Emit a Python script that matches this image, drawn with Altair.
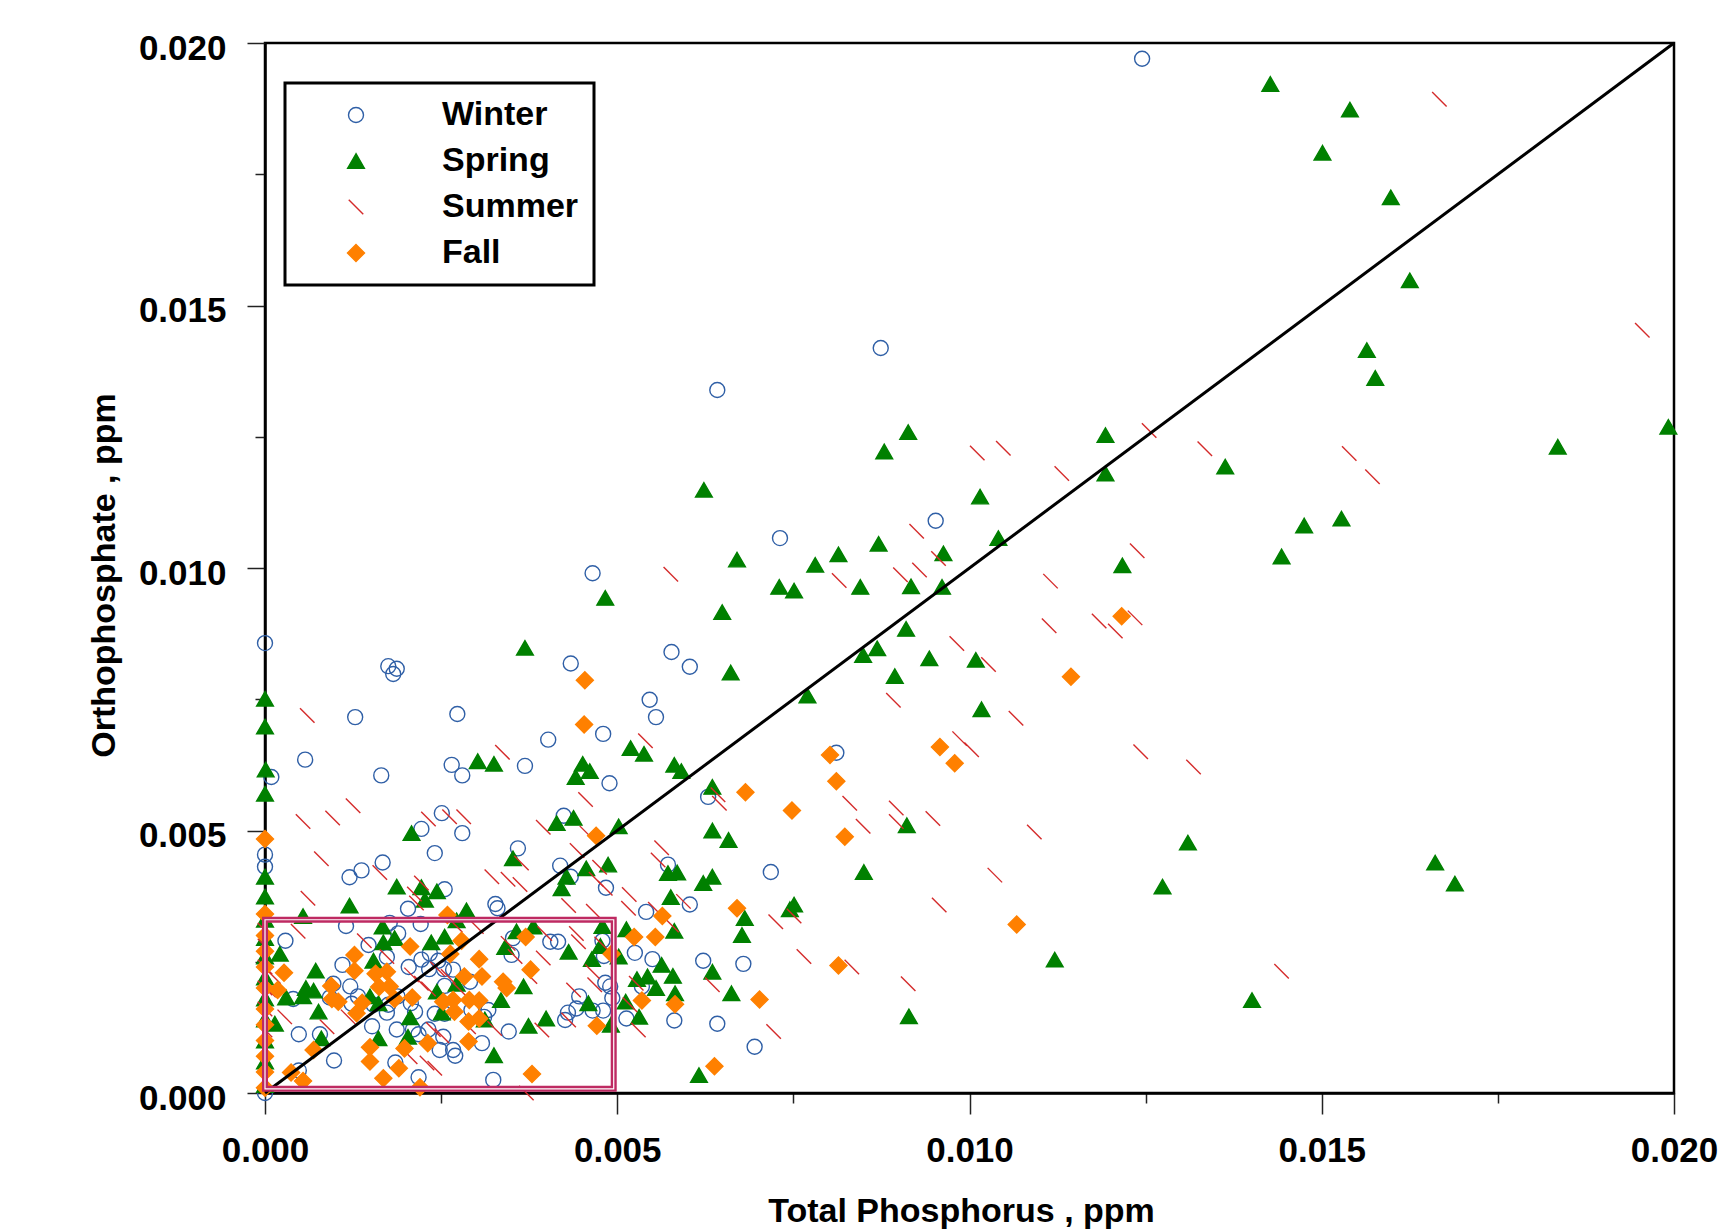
import altair as alt
import pandas as pd

SEASONS = ["Winter", "Spring", "Summer", "Fall"]

WINTER = [(0.01245,0.01970),(0.00874,0.01419),(0.00642,0.01339),(0.00952,0.01090),(0.00731,0.01057),(0.00465,0.00990),(0.0,0.00857),(0.00175,0.00813),(0.00187,0.00808),(0.00182,0.00798),(0.00434,0.00818),(0.00577,0.00840),(0.00603,0.00812),(0.00546,0.00749),(0.00555,0.00716),(0.00128,0.00716),(0.00273,0.00722),(0.00402,0.00673),(0.00480,0.00684),(0.00811,0.00648),(0.00057,0.00635),(0.00009,0.00602),(0.00165,0.00605),(0.00265,0.00625),(0.00280,0.00605),(0.00369,0.00623),(0.00489,0.00590),(0.00629,0.00564),(0.00251,0.00533),(0.00222,0.00503),(0.00280,0.00495),(0.00424,0.00528),(0.00241,0.00457),(0.00359,0.00466),(0.0,0.00454),(0.0,0.00431),(0.00120,0.00411),(0.00137,0.00424),(0.00167,0.00439),(0.00255,0.00388),(0.00203,0.00351),(0.00419,0.00433),(0.00434,0.00412),(0.00484,0.00391),(0.00572,0.00435),(0.00603,0.00359),(0.00541,0.00345),(0.00718,0.00421),(0.00327,0.00360),(0.00330,0.00352),(0.00115,0.00318),(0.00177,0.00324),(0.00189,0.00304),(0.00221,0.00322),(0.00405,0.00288),(0.00416,0.00288),(0.00479,0.00290),(0.00481,0.00261),(0.00525,0.00267),(0.00550,0.00255),(0.00622,0.00252),(0.00679,0.00246),(0.00029,0.00290),(0.00147,0.00282),(0.00110,0.00244),(0.00173,0.00259),(0.00204,0.00240),(0.00222,0.00254),(0.00234,0.00266),(0.00246,0.00252),(0.00233,0.00236),(0.00254,0.00236),(0.00267,0.00235),(0.00097,0.00208),(0.00121,0.00203),(0.00132,0.00184),(0.00123,0.00170),(0.00092,0.00182),(0.00040,0.00179),(0.00154,0.00168),(0.00173,0.00153),(0.00175,0.00168),(0.00188,0.00184),(0.00207,0.00171),(0.00213,0.00155),(0.00241,0.00151),(0.00255,0.00151),(0.00232,0.00121),(0.00152,0.00127),(0.00187,0.00121),(0.00210,0.00121),(0.00218,0.00112),(0.00048,0.00112),(0.00078,0.00112),(0.00248,0.00082),(0.00267,0.00082),(0.00270,0.00071),(0.00308,0.00095),(0.00346,0.00117),(0.00185,0.00058),(0.00098,0.00062),(0.00048,0.00043),(0.00218,0.00030),(0.0,0.0),(0.00293,0.00158),(0.00311,0.00145),(0.00317,0.00158),(0.00291,0.00212),(0.00255,0.00204),(0.00253,0.00107),(0.00483,0.00210),(0.00490,0.00203),(0.00535,0.00203),(0.00493,0.00181),(0.00446,0.00184),(0.00430,0.00153),(0.00426,0.00139),(0.00465,0.00157),(0.00480,0.00157),(0.00513,0.00142),(0.00581,0.00138),(0.00642,0.00132),(0.00695,0.00088),(0.00442,0.00161),(0.00352,0.00295),(0.00350,0.00263),(0.00324,0.00025)]

SPRING = [(0.01427,0.01922),(0.01540,0.01873),(0.01501,0.01791),(0.01598,0.01706),(0.01625,0.01548),(0.01564,0.01415),(0.01576,0.01362),(0.01992,0.01269),(0.01835,0.01231),(0.01363,0.01193),(0.01193,0.01253),(0.01193,0.01180),(0.00913,0.01259),(0.00879,0.01222),(0.01015,0.01136),(0.01041,0.01057),(0.01528,0.01094),(0.01475,0.01081),(0.01443,0.01022),(0.01217,0.01005),(0.00623,0.01149),(0.00670,0.01016),(0.00781,0.01006),(0.00814,0.01026),(0.00871,0.01046),(0.00963,0.01028),(0.00730,0.00964),(0.00751,0.00957),(0.00845,0.00964),(0.00917,0.00965),(0.00961,0.00964),(0.00483,0.00943),(0.00649,0.00916),(0.00910,0.00884),(0.00369,0.00848),(0.00869,0.00847),(0.00849,0.00834),(0.00943,0.00828),(0.00661,0.00801),(0.01009,0.00825),(0.00894,0.00794),(0.01017,0.00731),(0.00770,0.00757),(0.0,0.00751),(0.0,0.00698),(0.00001,0.00616),(0.0,0.00570),(0.00302,0.00632),(0.00325,0.00627),(0.00519,0.00657),(0.00538,0.00646),(0.00451,0.00627),(0.00461,0.00613),(0.00441,0.00602),(0.00581,0.00625),(0.00591,0.00613),(0.00635,0.00583),(0.00414,0.00514),(0.00438,0.00524),(0.00502,0.00508),(0.00635,0.00500),(0.00658,0.00482),(0.00208,0.00495),(0.00911,0.00510),(0.01310,0.00477),(0.01661,0.00439),(0.01689,0.00399),(0.01274,0.00393),(0.00850,0.00421),(0.01121,0.00254),(0.01401,0.00177),(0.00914,0.00146),(0.00751,0.00359),(0.00487,0.00435),(0.00456,0.00428),(0.00428,0.00412),(0.00421,0.00390),(0.00572,0.00419),(0.00585,0.00420),(0.00622,0.00400),(0.00635,0.00412),(0.00576,0.00373),(0.00681,0.00333),(0.00677,0.00301),(0.00745,0.00350),(0.00381,0.00317),(0.00479,0.00318),(0.00513,0.00312),(0.00581,0.00309),(0.00431,0.00269),(0.00476,0.00280),(0.00464,0.00255),(0.00502,0.00260),(0.00563,0.00244),(0.00579,0.00223),(0.00528,0.00217),(0.00543,0.00222),(0.00555,0.00200),(0.00582,0.00190),(0.00635,0.00231),(0.00662,0.00190),(0.00367,0.00203),(0.00512,0.00174),(0.00531,0.00145),(0.00459,0.00171),(0.00491,0.00130),(0.00399,0.00142),(0.00374,0.00128),(0.00616,0.00034),(0.00352,0.00447),(0.0,0.00412),(0.0,0.00374),(0.00187,0.00393),(0.00222,0.00392),(0.00244,0.00384),(0.00227,0.00368),(0.00120,0.00357),(0.00054,0.00337),(0.00286,0.00348),(0.00272,0.00329),(0.00167,0.00317),(0.00255,0.00298),(0.00236,0.00287),(0.00184,0.00295),(0.00168,0.00287),(0.00021,0.00265),(0.00154,0.00252),(0.00072,0.00233),(0.00341,0.00278),(0.00357,0.00308),(0.00058,0.00200),(0.00069,0.00195),(0.00030,0.00182),(0.00054,0.00184),(0.00076,0.00155),(0.00149,0.00184),(0.00161,0.00171),(0.00244,0.00193),(0.00272,0.00208),(0.00335,0.00177),(0.00251,0.00153),(0.00206,0.00144),(0.00312,0.00140),(0.00080,0.00104),(0.00161,0.00104),(0.00203,0.00107),(0.00325,0.00072),(0.00014,0.00132),(0.0,0.00015),(0.0,0.00060),(0.0,0.00100),(0.0,0.00140),(0.0,0.00180),(0.0,0.00220),(0.0,0.00260),(0.0,0.00295),(0.0,0.00330)]

SUMMER = [(0.01667,0.01893),(0.01955,0.01453),(0.01255,0.01262),(0.01334,0.01227),(0.01131,0.01180),(0.01048,0.01228),(0.01011,0.01219),(0.01539,0.01218),(0.01572,0.01174),(0.01238,0.01033),(0.01115,0.00975),(0.01113,0.00890),(0.01184,0.00899),(0.01207,0.00880),(0.01235,0.00905),(0.00925,0.01070),(0.00815,0.00976),(0.00902,0.00987),(0.00929,0.00996),(0.00956,0.01018),(0.00982,0.00856),(0.01027,0.00816),(0.00892,0.00748),(0.01066,0.00714),(0.00986,0.00675),(0.01003,0.00654),(0.00830,0.00552),(0.00849,0.00508),(0.00896,0.00543),(0.00896,0.00517),(0.00948,0.00523),(0.01092,0.00497),(0.01243,0.00650),(0.01318,0.00621),(0.01036,0.00415),(0.00957,0.00358),(0.00725,0.00326),(0.00751,0.00337),(0.00765,0.00260),(0.00833,0.00240),(0.00913,0.00208),(0.00722,0.00117),(0.01443,0.00232),(0.00060,0.00719),(0.00337,0.00649),(0.00125,0.00547),(0.00096,0.00524),(0.00054,0.00517),(0.00232,0.00522),(0.00262,0.00526),(0.00282,0.00526),(0.00576,0.00988),(0.00540,0.00671),(0.00455,0.00559),(0.00395,0.00506),(0.00643,0.00568),(0.00645,0.00552),(0.00457,0.00495),(0.00563,0.00467),(0.00558,0.00444),(0.00443,0.00462),(0.00475,0.00430),(0.00470,0.00407),(0.00483,0.00390),(0.00517,0.00378),(0.00431,0.00357),(0.00466,0.00346),(0.00516,0.00352),(0.00554,0.00350),(0.00577,0.00320),(0.00594,0.00365),(0.00397,0.00304),(0.00442,0.00304),(0.00445,0.00288),(0.00395,0.00257),(0.00376,0.00222),(0.00478,0.00284),(0.00465,0.00231),(0.00468,0.00206),(0.00438,0.00196),(0.00527,0.00209),(0.00635,0.00206),(0.00518,0.00168),(0.00530,0.00120),(0.00431,0.00139),(0.00393,0.00120),(0.00371,0.00000),(0.00364,0.00438),(0.00080,0.00446),(0.00163,0.00420),(0.00061,0.00371),(0.00222,0.00400),(0.00212,0.00379),(0.00215,0.00362),(0.00322,0.00412),(0.00345,0.00407),(0.00362,0.00397),(0.00047,0.00308),(0.00141,0.00290),(0.00173,0.00260),(0.00208,0.00225),(0.00222,0.00209),(0.00232,0.00198),(0.00245,0.00236),(0.00260,0.00222),(0.00277,0.00196),(0.00270,0.00320),(0.00300,0.00317),(0.00345,0.00285),(0.00355,0.00260),(0.00012,0.00222),(0.00005,0.00196),(0.00028,0.00145),(0.00088,0.00126),(0.00118,0.00145),(0.00239,0.00121),(0.00251,0.00109),(0.00206,0.00069),(0.00230,0.00057),(0.00241,0.00047),(0.00289,0.00126),(0.00326,0.00123),(0.0,0.00120),(0.0,0.00160),(0.0,0.00200),(0.0,0.00240),(0.0,0.00280),(0.0,0.00310)]

FALL = [(0.01216,0.00908),(0.01144,0.00793),(0.00958,0.00659),(0.00979,0.00628),(0.00802,0.00644),(0.00811,0.00594),(0.00682,0.00573),(0.00748,0.00538),(0.00823,0.00488),(0.00454,0.00786),(0.00453,0.00702),(0.00470,0.00490),(0.0,0.00484),(0.01067,0.00321),(0.00670,0.00352),(0.00814,0.00243),(0.00702,0.00178),(0.00638,0.00051),(0.00582,0.00169),(0.00535,0.00176),(0.00564,0.00337),(0.00524,0.00297),(0.00554,0.00297),(0.00370,0.00297),(0.00492,0.00265),(0.00377,0.00235),(0.00471,0.00128),(0.00379,0.00036),(0.0,0.00341),(0.00259,0.00339),(0.00279,0.00290),(0.00206,0.00279),(0.00127,0.00263),(0.00127,0.00233),(0.00027,0.00229),(0.00018,0.00196),(0.00157,0.00227),(0.00173,0.00231),(0.00304,0.00255),(0.00283,0.00222),(0.00308,0.00222),(0.00263,0.00265),(0.00338,0.00212),(0.00343,0.00200),(0.00094,0.00204),(0.00095,0.00179),(0.00104,0.00174),(0.00138,0.00172),(0.00130,0.00152),(0.00162,0.00202),(0.00177,0.00203),(0.00184,0.00179),(0.00209,0.00182),(0.00253,0.00174),(0.00267,0.00177),(0.00290,0.00177),(0.00304,0.00176),(0.00269,0.00155),(0.00289,0.00136),(0.00304,0.00142),(0.00289,0.00098),(0.00231,0.00095),(0.00198,0.00085),(0.00149,0.00087),(0.00149,0.00060),(0.00190,0.00047),(0.00168,0.00028),(0.00220,0.00011),(0.00069,0.00082),(0.00037,0.00039),(0.00054,0.00023),(0.0,0.00010),(0.0,0.00040),(0.0,0.00070),(0.0,0.00100),(0.0,0.00130),(0.0,0.00160),(0.0,0.00200),(0.0,0.00240),(0.0,0.00270),(0.0,0.00300)]

ONE_TO_ONE_TP = [0.0, 0.02]
ONE_TO_ONE_OP = [0.0, 0.02]
BOX_TP = [0.0, 0.00495]
BOX_OP = [0.00008, 0.0033]
TICKS = [0.0, 0.0025, 0.005, 0.0075, 0.01, 0.0125, 0.015, 0.0175, 0.02]

SHAPES = ["circle", "triangle-up", "M-1,-1L1,1", "diamond"]
STROKES = ["#2F5FA6", "#008000", "#D42A2A", "#FF8000"]
FILLS = ["transparent", "#008000", "transparent", "#FF8000"]
SIZES = [225, 280, 210, 290]

FONT = "Liberation Sans"

rows = []
for name, pts in zip(SEASONS, [WINTER, SPRING, SUMMER, FALL]):
    for tp, op in pts:
        rows.append({"Season": name, "TP": tp, "OP": op})
df = pd.DataFrame(rows)

line_df = pd.DataFrame({"TP": ONE_TO_ONE_TP, "OP": ONE_TO_ONE_OP})
box_df = pd.DataFrame({"x1": [BOX_TP[0]], "x2": [BOX_TP[1]], "y1": [BOX_OP[0]], "y2": [BOX_OP[1]]})

MAJOR = "abs(datum.value*200 - round(datum.value*200)) < 0.01"
LABEL_EXPR = f"({MAJOR}) ? format(datum.value, '.3f') : ''"

x_scale = alt.Scale(domain=[0, 0.02], nice=False, zero=False)
y_scale = alt.Scale(domain=[0, 0.02], nice=False, zero=False)

x_axis = alt.Axis(
    values=TICKS, labelExpr=LABEL_EXPR, grid=False,
    tickSize={"condition": {"test": MAJOR, "value": 21}, "value": 10},
    tickWidth=1.5, tickColor="#222222",
    domainColor="black", domainWidth=2.5,
    labelFont=FONT, labelFontSize=35, labelFontWeight="bold", labelColor="black", labelPadding=19,
    labelFlush=False, labelOverlap=False, labelBound=False,
    title="Total Phosphorus , ppm", titleFont=FONT, titleFontSize=34,
    titleFontWeight="bold", titleColor="black",
    titleX=696, titleY=101, titleBaseline="top",
)
y_axis = alt.Axis(
    values=TICKS, labelExpr=LABEL_EXPR, grid=False,
    tickSize={"condition": {"test": MAJOR, "value": 18}, "value": 10},
    tickWidth=1.5, tickColor="#222222",
    domainColor="black", domainWidth=2.5,
    labelFont=FONT, labelFontSize=35, labelFontWeight="bold", labelColor="black", labelPadding=21,
    labelOffset=5, labelBaseline="middle",
    labelFlush=False, labelOverlap=False, labelBound=False,
    title="Orthophosphate , ppm", titleFont=FONT, titleFontSize=34,
    titleFontWeight="bold", titleColor="black",
    titleX=-151, titleY=532, titleAngle=270, titleBaseline="alphabetic",
)

legend = alt.Legend(title=None)

points = alt.Chart(df).mark_point(filled=False, strokeWidth=1.4, opacity=1).encode(
    x=alt.X("TP:Q", scale=x_scale, axis=x_axis),
    y=alt.Y("OP:Q", scale=y_scale, axis=y_axis),
    shape=alt.Shape("Season:N", scale=alt.Scale(domain=SEASONS, range=SHAPES), legend=legend),
    stroke=alt.Stroke("Season:N", scale=alt.Scale(domain=SEASONS, range=STROKES), legend=legend),
    fill=alt.Fill("Season:N", scale=alt.Scale(domain=SEASONS, range=FILLS), legend=legend),
    size=alt.Size("Season:N", scale=alt.Scale(type="ordinal", domain=SEASONS, range=SIZES), legend=legend),
    order=alt.Order("order:Q"),
).transform_calculate(
    order="indexof(['Winter','Spring','Summer','Fall'], datum.Season)"
)

diag = alt.Chart(line_df).mark_line(color="black", strokeWidth=3).encode(
    x=alt.X("TP:Q", scale=x_scale),
    y=alt.Y("OP:Q", scale=y_scale),
)

box_outer = alt.Chart(box_df).mark_rect(fillOpacity=0, stroke="#BE2A62", strokeWidth=6).encode(
    x=alt.X("x1:Q", scale=x_scale), x2="x2:Q",
    y=alt.Y("y1:Q", scale=y_scale), y2="y2:Q",
)
box_inner = alt.Chart(box_df).mark_rect(fillOpacity=0, stroke="white", strokeWidth=1.2).encode(
    x=alt.X("x1:Q", scale=x_scale), x2="x2:Q",
    y=alt.Y("y1:Q", scale=y_scale), y2="y2:Q",
)

chart = alt.layer(points, diag, box_outer, box_inner).properties(
    width=1409, height=1050,
    autosize=alt.AutoSizeParams(type="none"),
    padding={"left": 257, "top": 35, "right": 50, "bottom": 137},
    background="white",
).configure_view(
    stroke="black", strokeWidth=2.5
).configure_legend(
    orient="none", legendX=20, legendY=40,
    fillColor="white", strokeColor="black", strokeWidth=3,
    padding=15, labelFont=FONT, labelFontSize=34, labelFontWeight="bold",
    labelColor="black", symbolOffset=39, labelOffset=69, rowPadding=12,
    symbolStrokeWidth=1.4, labelLimit=400,
)

chart.save("out.html", embed_options={"renderer": "svg", "actions": False})
